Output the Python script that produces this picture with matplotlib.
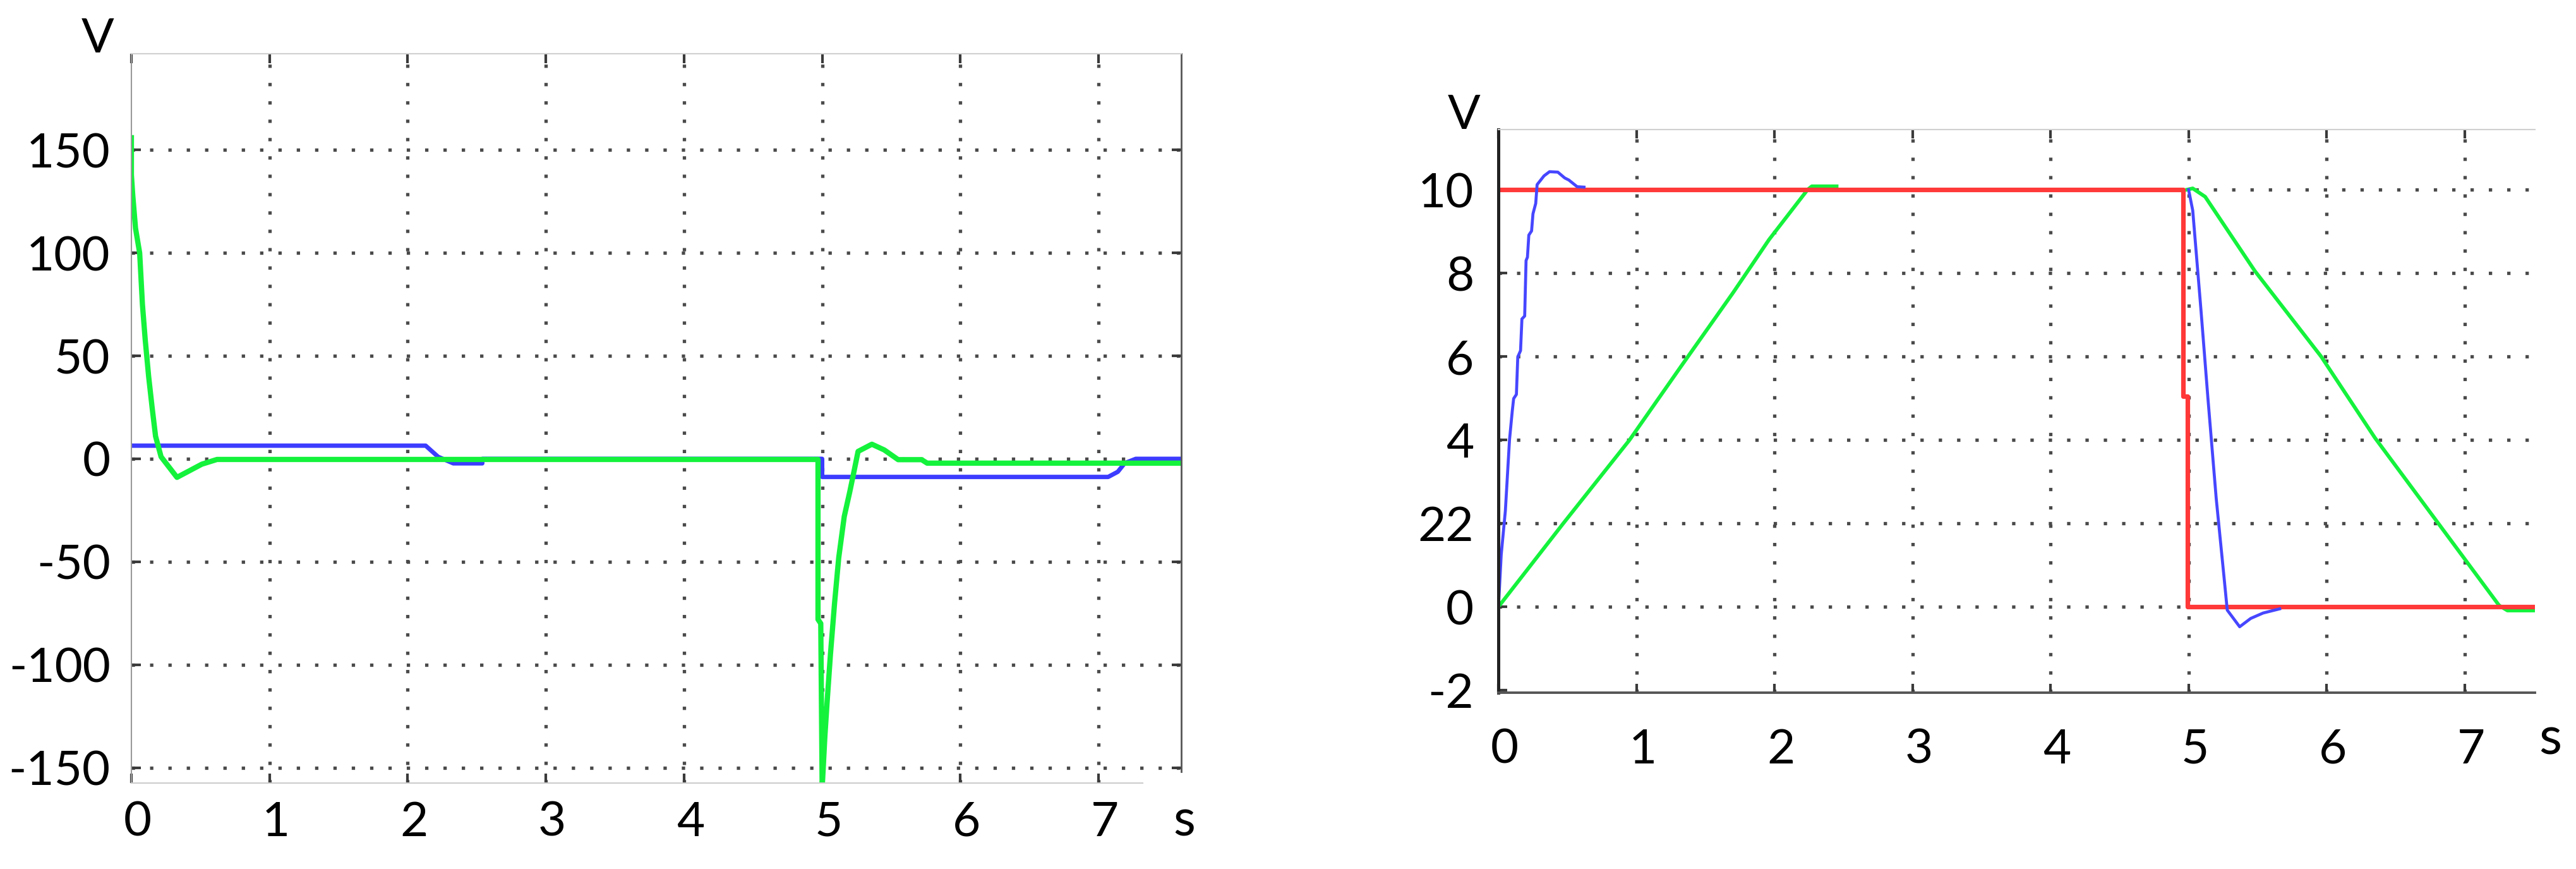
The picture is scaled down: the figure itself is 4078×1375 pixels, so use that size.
import matplotlib
matplotlib.use('Agg')
from matplotlib import pyplot as plt
from matplotlib import transforms

plt.rcParams['font.family'] = ['Lato', 'DejaVu Sans']
plt.rcParams['axes.unicode_minus'] = False

nan = float('nan')

# left chart: voltages, V
t_green_l = [0, 0, 0.01, 0.03, 0.06, 0.08, 0.10, 0.125, 0.15, 0.175, 0.215, 0.33, 0.51, 0.62,
             4.97, 4.97, 4.99, 5.00, 5.02, 5.035, 5.06, 5.09, 5.12, 5.16, 5.20,
             5.23, 5.26, 5.36, 5.45, 5.55, 5.72, 5.76, 7.6]
v_green_l = [156, 138, 128, 112, 100, 75, 58, 40, 25, 11, 1, -9, -2.6, -0.3,
             -0.3, -78, -80, -160, -134.5, -119, -95, -70, -48, -28, -16,
             -6.3, 3.6, 7.1, 4.3, -0.4, -0.4, -2.1, -2.1]
t_blue_l = [0, 2.13, 2.22, 2.33, 2.54, 2.54, 5.00, 5.00, 7.07, 7.14, 7.19, 7.27, 7.6]
v_blue_l = [6.4, 6.4, 1.0, -2.2, -2.2, 0, 0, -8.8, -8.8, -6.3, -2.1, 0, 0]

# right chart (nan = gap in the trace)
t_red = [0, 4.96, 4.96, 4.99, 4.99, 7.51]
v_red = [10, 10, 5.04, 5.04, 0, 0]
t_blue_r = [0, 0.02, 0.05, 0.08, 0.10, 0.11, 0.13, 0.14, 0.16, 0.17, 0.19, 0.20, 0.21, 0.22, 0.24, 0.25, 0.27,
            0.28, 0.33, 0.37, 0.43, 0.48, 0.51, 0.57, 0.62, nan,
            5.00, 5.03, 5.09, 5.14, 5.20, 5.26, 5.28, 5.37, 5.45, 5.54, 5.66]
v_blue_r = [0, 1.25, 2.3, 4.0, 4.69, 4.99, 5.09, 5.99, 6.14, 6.9, 6.97, 8.3, 8.38, 8.91, 9.01, 9.42, 9.67,
            10.12, 10.33, 10.43, 10.42, 10.28, 10.23, 10.07, 10.06, nan,
            10, 9.5, 7.1, 5.0, 2.6, 0.6, -0.08, -0.48, -0.28, -0.15, -0.05]
t_green_r = [0, 0.47, 0.95, 1.32, 1.70, 1.96, 2.24, 2.27, 2.45, nan,
             4.99, 5.03, 5.12, 5.48, 5.96, 6.35, 6.80, 7.25, 7.31, 7.51]
v_green_r = [0, 2, 4, 5.75, 7.53, 8.8, 10, 10.08, 10.08, nan,
             10, 10.03, 9.83, 8.05, 6.0, 4.05, 2.04, 0.03, -0.09, -0.09]

xticks = [0, 1, 2, 3, 4, 5, 6, 7]
yticks_l = [-150, -100, -50, 0, 50, 100, 150]
yticks_r = [-2, 0, 2, 4, 6, 8, 10]
ylabels_r = ['-2', '0', '22', '4', '6', '8', '10']

fig = plt.figure(figsize=(40.78, 13.75), dpi=100)
grid_style = dict(color='#4a4a4a', linestyle=(0, (1, 4.5)), linewidth=3.8)
shift = transforms.ScaledTranslation(0.1, 0, fig.dpi_scale_trans)

# ---- left panel
ax1 = fig.add_axes([0.0510, 0.0989, 0.4076, 0.8393])
ax1.plot(t_blue_l, v_blue_l, color='#3c3cff', lw=5)
ax1.plot(t_green_l, v_green_l, color='#14f23c', lw=6)
ax1.set_xlim(0, 7.6)
ax1.set_ylim(-157.5, 196.8)
ax1.set_xticks(xticks)
ax1.set_xticklabels([str(x) for x in xticks])
ax1.set_yticks(yticks_l)
ax1.set_yticklabels([str(y) for y in yticks_l])
ax1.grid(True, **grid_style)
ax1.get_xgridlines()[0].set_visible(False)
ax1.tick_params(direction='in', length=11, width=3, color='#3a3a3a', labelsize=55,
                top=True, right=True)
ax1.tick_params(axis='x', pad=20)
ax1.tick_params(axis='y', pad=24)
ax1.spines['left'].set_color('#999999')
ax1.spines['left'].set_linewidth(1.5)
ax1.spines['top'].set_color('#d0d0d0')
ax1.spines['top'].set_linewidth(1.5)
ax1.spines['bottom'].set_color('#cccccc')
ax1.spines['bottom'].set_linewidth(1.5)
ax1.spines['bottom'].set_bounds(0, 7.32)
ax1.spines['right'].set_color('#555555')
ax1.spines['right'].set_linewidth(2)
ax1.spines['right'].set_bounds(-152, 196.8)
for lab in ax1.get_xticklabels():
    lab.set_transform(lab.get_transform() + shift)

# ---- right panel
ax2 = fig.add_axes([0.5817, 0.2029, 0.4024, 0.648])
ax2.plot(t_green_r, v_green_r, color='#14f23c', lw=4.2)
ax2.plot(t_red, v_red, color='#ff3838', lw=5.2)
ax2.plot(t_blue_r, v_blue_r, color='#4646ff', lw=3.4)
ax2.set_xlim(0, 7.51)
ax2.set_ylim(-2.06, 11.44)
ax2.set_xticks(xticks)
ax2.set_xticklabels([str(x) for x in xticks])
ax2.set_yticks(yticks_r)
ax2.set_yticklabels(ylabels_r)
ax2.grid(True, **grid_style)
ax2.get_xgridlines()[0].set_visible(False)
ax2.get_ygridlines()[0].set_visible(False)
ax2.tick_params(direction='in', length=10, width=3, color='#3a3a3a', labelsize=55, top=True)
ax2.tick_params(axis='x', pad=40)
ax2.tick_params(axis='y', pad=28)
ax2.spines['left'].set_color('#222222')
ax2.spines['left'].set_linewidth(3.6)
ax2.spines['bottom'].set_color('#555555')
ax2.spines['bottom'].set_linewidth(2.8)
ax2.spines['top'].set_color('#d0d0d0')
ax2.spines['top'].set_linewidth(1.5)
ax2.spines['right'].set_visible(False)
for lab in ax2.get_xticklabels():
    lab.set_transform(lab.get_transform() + shift)

# axis unit labels
fig.text(0.0378, 0.9556, 'V', fontsize=55, ha='center', va='center')
fig.text(0.4598, 0.0380, 's', fontsize=58, ha='center', va='baseline')
fig.text(0.5684, 0.8676, 'V', fontsize=55, ha='center', va='center')
fig.text(0.9900, 0.1320, 's', fontsize=60, ha='center', va='baseline')

plt.savefig('out.png', dpi=100)
